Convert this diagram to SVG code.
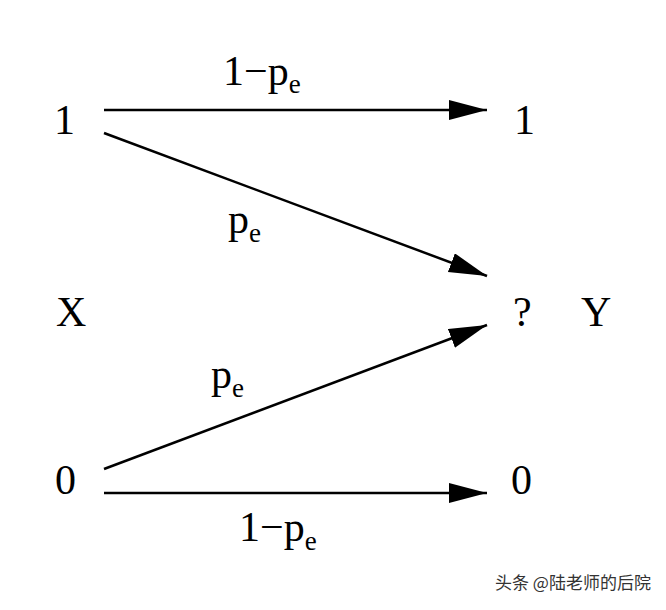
<svg xmlns="http://www.w3.org/2000/svg" width="666" height="610" viewBox="0 0 666 610">
<style>
.t{font-family:"Liberation Serif","Times New Roman",serif;font-size:42px;fill:#000}
.s{font-size:27px}
.c{stroke:#000;stroke-width:2.5;fill:none}
.w{font-family:"Noto Sans CJK SC","Noto Sans",sans-serif;font-size:17px;fill:#333}
</style>
<defs>
<marker id="ah" markerUnits="userSpaceOnUse" markerWidth="40" markerHeight="22" refX="38" refY="10" orient="auto">
<path d="M0,0 L38,10 L0,20 z" fill="#000"/>
</marker>
</defs>
<rect width="666" height="610" fill="#fff"/>
<g id="connectors">
<line class="c" x1="104" y1="110" x2="487" y2="110" marker-end="url(#ah)"/>
<line class="c" x1="104" y1="133" x2="487" y2="276" marker-end="url(#ah)"/>
<line class="c" x1="104" y1="469" x2="487" y2="325" marker-end="url(#ah)"/>
<line class="c" x1="104" y1="493" x2="487" y2="493" marker-end="url(#ah)"/>
</g>
<g id="x1"><text class="t" x="54" y="134">1</text></g>
<g id="x0"><text class="t" x="55" y="494">0</text></g>
<g id="X"><text class="t" x="56" y="326">X</text></g>
<g id="y1"><text class="t" x="514" y="134">1</text></g>
<g id="yq"><text class="t" x="513" y="326">?</text></g>
<g id="y0"><text class="t" x="511" y="494">0</text></g>
<g id="Y"><text class="t" x="581" y="326">Y</text></g>
<g id="labels">
<text class="t" x="223" y="85">1−p<tspan class="s" dy="8">e</tspan></text>
<text class="t" x="228" y="233">p<tspan class="s" dy="9">e</tspan></text>
<text class="t" x="211" y="388">p<tspan class="s" dy="9">e</tspan></text>
<text class="t" x="239" y="541">1−p<tspan class="s" dy="9">e</tspan></text>
</g>
<text class="w" x="495" y="589">头条 @陆老师的后院</text>
</svg>
